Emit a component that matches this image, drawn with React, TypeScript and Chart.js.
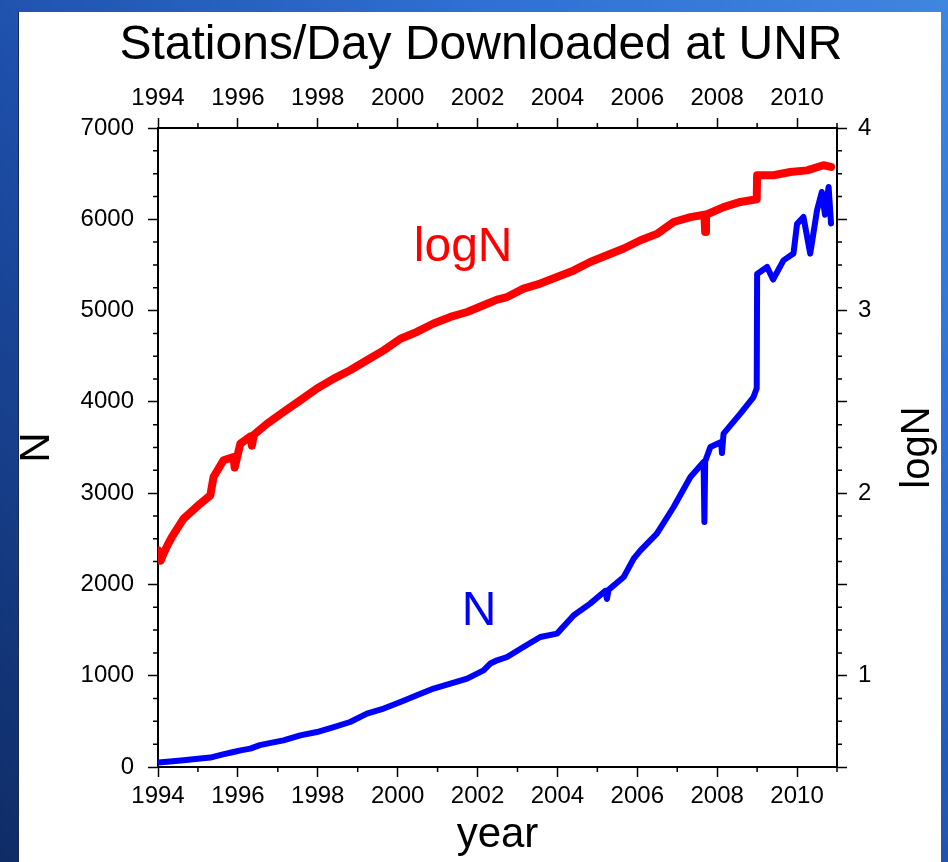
import React, { useEffect, useRef } from 'react';
import { Chart, registerables } from 'chart.js';

Chart.register(...registerables);

const FONT = '"Liberation Sans", Arial, Helvetica, sans-serif';
const RED = '#ff0000';
const BLUE = '#0000ff';

const TITLE = 'Stations/Day Downloaded at UNR';
const X_TITLE = 'year';
const Y_TITLE = 'N';
const Y1_TITLE = 'logN';

// Stations downloaded per day (left axis)
const nYears = [
  1994.0, 1994.3, 1994.64, 1995.06, 1995.31, 1995.6, 1995.89, 1996.1, 1996.31, 1996.55,
  1996.73, 1997.14, 1997.56, 1997.98, 1998.4, 1998.81, 1999.23, 1999.65, 2000.07, 2000.48,
  2000.9, 2001.32, 2001.74, 2002.15, 2002.32, 2002.49, 2002.74, 2003.15, 2003.57,
  2003.99, 2004.41, 2004.82, 2005.2, 2005.24, 2005.28, 2005.66, 2005.91, 2006.08, 2006.49,
  2006.91, 2007.33, 2007.66, 2007.68, 2007.7, 2007.83, 2008.1, 2008.12, 2008.16, 2008.58,
  2008.91, 2008.99, 2009.0, 2009.25, 2009.4, 2009.66, 2009.91, 2010.0, 2010.16, 2010.33,
  2010.5, 2010.62, 2010.7, 2010.79, 2010.85,
];
const nValues = [
  50, 60, 73, 92, 103, 135, 164, 185, 201, 240,
  256, 292, 347, 383, 438, 493, 585, 640, 712, 785,
  859, 913, 968, 1059, 1133, 1169, 1205, 1315, 1424,
  1461, 1662, 1790, 1930, 1840, 1940, 2081, 2283, 2374, 2557,
  2848, 3177, 3341, 2684, 3350, 3505, 3560, 3440, 3652, 3871,
  4053, 4150, 5400, 5477, 5340, 5550, 5624, 5950, 6025, 5624,
  6098, 6299, 6050, 6353, 5955,
];

// log10 of the daily count (right axis)
const logYears = [
  1994.0, 1994.07, 1994.14, 1994.25, 1994.35, 1994.64, 1995.06, 1995.31, 1995.39, 1995.64,
  1995.89, 1995.92, 1996.06, 1996.31, 1996.35, 1996.4, 1996.73, 1997.14, 1997.56, 1997.98,
  1998.4, 1998.81, 1999.23, 1999.65, 2000.07, 2000.48, 2000.9, 2001.32, 2001.74, 2002.15,
  2002.49, 2002.74, 2003.15, 2003.57, 2003.99, 2004.41, 2004.82, 2005.24, 2005.66, 2006.08,
  2006.49, 2006.91, 2007.33, 2007.68, 2007.7, 2007.72, 2008.16, 2008.58, 2008.99, 2009.0,
  2009.41, 2009.83, 2010.25, 2010.66, 2010.85,
];
const logValues = [
  1.687, 1.63, 1.67, 1.72, 1.76, 1.86, 1.943, 1.988, 2.088, 2.18,
  2.198, 2.14, 2.27, 2.31, 2.26, 2.32, 2.38, 2.444, 2.508, 2.573,
  2.627, 2.673, 2.728, 2.782, 2.846, 2.883, 2.929, 2.965, 2.992, 3.029,
  3.06, 3.074, 3.12, 3.148, 3.184, 3.22, 3.266, 3.303, 3.34, 3.385,
  3.42, 3.485, 3.512, 3.525, 3.43, 3.525, 3.567, 3.595, 3.61, 3.741,
  3.741, 3.759, 3.768, 3.796, 3.787,
];

// Axis ranges and tick values
const yearRange = [1994, 2011];
const nRange = [0, 7000];
const logRange = [0.5, 4];
const yearTicks = [1994, 1996, 1998, 2000, 2002, 2004, 2006, 2008, 2010];
const minorYears = [1995, 1997, 1999, 2001, 2003, 2005, 2007, 2009, 2011];
const minorN = Array.from({ length: 27 }, (_, i) => (i + 1) * 250).filter((v) => v % 1000 !== 0);
const minorLog = Array.from({ length: 27 }, (_, i) => 0.5 + (i + 1) * 0.125).filter((v) => (v * 2) % 1 !== 0);

// In-plot series names, placed in data coordinates
const logNameAt = { year: 2001.64, value: 3.27 };
const nNameAt = { year: 2002.04, value: 1555 };

const W = 948;
const H = 862;

const tickFont = { family: FONT, size: 24 };
const frame = { display: true, color: '#000', width: 2 };
const tickGrid = { drawOnChartArea: false, tickLength: 10, tickWidth: 1.5, tickColor: '#000' };

const decorations = {
  id: 'decorations',
  afterDraw(chart: any) {
    const { ctx, chartArea: a, scales } = chart;
    ctx.save();
    ctx.strokeStyle = '#000';
    ctx.lineWidth = 1.5;
    ctx.beginPath();
    for (const yr of minorYears) {
      const px = scales.x.getPixelForValue(yr);
      ctx.moveTo(px, a.bottom);
      ctx.lineTo(px, a.bottom + 5);
      ctx.moveTo(px, a.top);
      ctx.lineTo(px, a.top - 5);
    }
    for (const v of minorN) {
      const py = scales.y.getPixelForValue(v);
      ctx.moveTo(a.left, py);
      ctx.lineTo(a.left - 5, py);
    }
    for (const v of minorLog) {
      const py = scales.y1.getPixelForValue(v);
      ctx.moveTo(a.right, py);
      ctx.lineTo(a.right + 5, py);
    }
    ctx.stroke();

    ctx.font = `48px ${FONT}`;
    ctx.textAlign = 'center';
    ctx.textBaseline = 'alphabetic';
    ctx.fillStyle = RED;
    ctx.fillText('logN', scales.x.getPixelForValue(logNameAt.year), scales.y1.getPixelForValue(logNameAt.value));
    ctx.fillStyle = BLUE;
    ctx.fillText('N', scales.x.getPixelForValue(nNameAt.year), scales.y.getPixelForValue(nNameAt.value));

    ctx.fillStyle = '#000';
    ctx.font = `40px ${FONT}`;
    ctx.textBaseline = 'middle';
    ctx.translate(a.right + 81, (a.top + a.bottom) / 2);
    ctx.rotate(-Math.PI / 2);
    ctx.fillText(Y1_TITLE, 0, 0);
    ctx.restore();
  },
};

const useYearTicks = (scale: any) => {
  scale.ticks = yearTicks.map((value) => ({ value }));
};

export default function App() {
  const canvasRef = useRef<HTMLCanvasElement | null>(null);

  useEffect(() => {
    const canvas = canvasRef.current;
    if (!canvas) return;
    const chart = new Chart(canvas, {
      type: 'line',
      data: {
        datasets: [
          {
            label: 'logN',
            data: logYears.map((x, i) => ({ x, y: logValues[i] })),
            xAxisID: 'x',
            yAxisID: 'y1',
            borderColor: RED,
            borderWidth: 8,
            pointRadius: 0,
            tension: 0,
            borderJoinStyle: 'round',
            borderCapStyle: 'round',
          },
          {
            label: 'N',
            data: nYears.map((x, i) => ({ x, y: nValues[i] })),
            xAxisID: 'x',
            yAxisID: 'y',
            borderColor: BLUE,
            borderWidth: 6,
            pointRadius: 0,
            tension: 0,
            borderJoinStyle: 'round',
            borderCapStyle: 'round',
          },
        ],
      },
      options: {
        responsive: false,
        animation: false,
        devicePixelRatio: 1,
        parsing: false,
        layout: { padding: { left: 14, top: 0, right: 0, bottom: 0 } },
        plugins: {
          legend: { display: false },
          tooltip: { enabled: false },
          title: {
            display: true,
            text: TITLE,
            color: '#000',
            font: { family: FONT, size: 48, weight: 'normal', lineHeight: 1.2 },
            padding: { top: 17, bottom: 0 },
          },
        },
        scales: {
          x: {
            type: 'linear',
            position: 'bottom',
            min: yearRange[0],
            max: yearRange[1],
            border: frame,
            grid: tickGrid,
            afterBuildTicks: useYearTicks,
            afterFit: (s: any) => { s.height = 95; },
            ticks: {
              maxRotation: 0,
              autoSkip: false,
              padding: 5,
              color: '#000',
              font: tickFont,
              callback: (v: any) => String(v),
            },
            title: {
              display: true,
              text: X_TITLE,
              color: '#000',
              font: { family: FONT, size: 42 },
              padding: { top: 0, bottom: 1 },
            },
          },
          x2: {
            type: 'linear',
            axis: 'x',
            position: 'top',
            min: yearRange[0],
            max: yearRange[1],
            border: frame,
            grid: tickGrid,
            afterBuildTicks: useYearTicks,
            afterFit: (s: any) => { s.height = 53.4; },
            ticks: {
              maxRotation: 0,
              autoSkip: false,
              padding: 5,
              color: '#000',
              font: tickFont,
              callback: (v: any) => String(v),
            },
          },
          y: {
            type: 'linear',
            position: 'left',
            min: nRange[0],
            max: nRange[1],
            border: frame,
            grid: tickGrid,
            afterFit: (s: any) => { s.width = 144; },
            ticks: {
              stepSize: 1000,
              padding: 14,
              color: '#000',
              font: tickFont,
              callback: (v: any) => String(v),
            },
            title: {
              display: true,
              text: Y_TITLE,
              color: '#000',
              font: { family: FONT, size: 42, lineHeight: 1.0 },
              padding: { top: 2, bottom: 0 },
            },
          },
          y1: {
            type: 'linear',
            position: 'right',
            min: logRange[0],
            max: logRange[1],
            border: frame,
            grid: tickGrid,
            afterFit: (s: any) => { s.width = 111; },
            ticks: {
              stepSize: 0.5,
              padding: 11,
              color: '#000',
              font: tickFont,
              callback: (v: any) => (Number.isInteger(v) ? String(v) : ''),
            },
          },
        },
      },
      plugins: [decorations],
    });
    return () => chart.destroy();
  }, []);

  return (
    <div
      style={{
        position: 'absolute',
        left: 0,
        top: 0,
        width: W,
        height: H,
        overflow: 'hidden',
        background: 'linear-gradient(to top right, #0f2c66 0%, #1d4ea8 45%, #2f70d2 75%, #3f86e0 100%)',
      }}
    >
      <div
        style={{
          position: 'absolute',
          left: 18,
          top: 12,
          width: 923,
          height: H - 12,
          background: '#fff',
          borderLeft: '1px solid #1a2a4a',
          boxSizing: 'border-box',
        }}
      />
      <canvas ref={canvasRef} width={W} height={H} style={{ position: 'absolute', left: 0, top: 0 }} />
    </div>
  );
}
